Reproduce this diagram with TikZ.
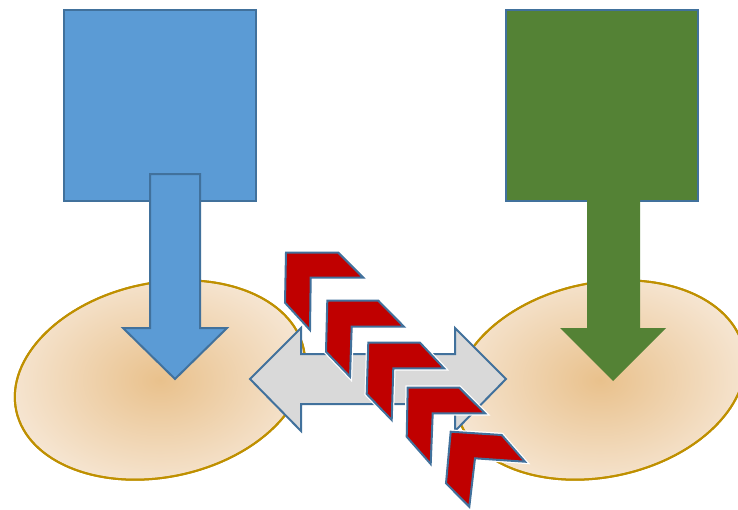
\documentclass[tikz,border=0pt]{standalone}
\definecolor{pblue}{RGB}{91,155,213}
\definecolor{pline}{RGB}{65,113,156}
\definecolor{pgreen}{RGB}{84,130,53}
\definecolor{pred}{RGB}{192,0,0}
\definecolor{pgray}{RGB}{217,217,217}
\definecolor{pgold}{RGB}{191,144,0}
\definecolor{peachin}{RGB}{233,193,140}
\definecolor{peachout}{RGB}{246,230,211}
\tikzset{
  sq/.style={line width=2pt, draw=pline},
  blob/.style={line width=2pt, draw=pgold, inner color=peachin, outer color=peachout},
  bigarrow/.style={line width=2pt, draw=pline, line join=miter},
  chev/.style={line width=2pt, draw=pline, fill=pred, line join=miter},
  halo/.style={line width=4.5pt, draw=white, line join=miter}
}
\begin{document}
\begin{tikzpicture}[x=1pt,y=-1pt]
\clip (0,0) rectangle (738,509);
\fill[white] (0,0) rectangle (738,509);
% squares
\filldraw[sq, fill=pblue] (64,10) rectangle (256,201);
\filldraw[sq, fill=pgreen] (506,10) rectangle (698,201);
% ellipses
\begin{scope}[shift={(160,380)}, rotate=12]
  \shade[blob] (0,0) ellipse [x radius=147pt, y radius=97pt];
  \draw[line width=2pt, draw=pgold] (0,0) ellipse [x radius=147pt, y radius=97pt];
\end{scope}
\begin{scope}[shift={(600,380)}, rotate=12]
  \shade[blob] (0,0) ellipse [x radius=147pt, y radius=97pt];
  \draw[line width=2pt, draw=pgold] (0,0) ellipse [x radius=147pt, y radius=97pt];
\end{scope}
% down arrows
\filldraw[bigarrow, fill=pblue] (150,174) -- (200,174) -- (200,328) -- (227,328) -- (175,379) -- (123,328) -- (150,328) -- cycle;
\fill[pgreen] (587,192) -- (640,192) -- (640,328) -- (666,328) -- (613,381) -- (560,328) -- (587,328) -- cycle;
% double arrow
\filldraw[bigarrow, fill=pgray] (250,379) -- (301,328) -- (301,354) -- (455,354) -- (455,328) -- (506,379) -- (455,431) -- (455,404) -- (301,404) -- (301,431) -- cycle;
% chevrons
\foreach \p in {
  {(286,252.7) -- (338.3,252.7) -- (363.3,277.7) -- (310.7,277.7) -- (310,330) -- (285,302.7)},
  {(327.3,300.7) -- (378.3,300.7) -- (404,326.7) -- (351.7,326.7) -- (350,376.7) -- (326,351.7)},
  {(368.3,342.7) -- (420,342.7) -- (444,368.3) -- (393.3,368.3) -- (391.7,420) -- (366.7,394)},
  {(407.7,387.7) -- (459.3,387.7) -- (485,413.3) -- (432.7,413.3) -- (430.7,464) -- (406.7,436.7)},
  {(450.7,431.7) -- (501.7,435) -- (525,461.7) -- (475,458.3) -- (469.3,506.7) -- (446,483.3)}
}{
  \draw[halo] \p -- cycle;
  \filldraw[chev] \p -- cycle;
}
\end{tikzpicture}
\end{document}
